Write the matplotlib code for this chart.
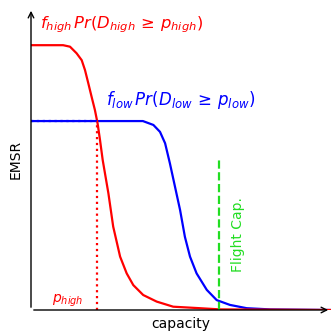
import matplotlib.pyplot as plt

# points (x = capacity, y = EMSR, arbitrary units 0..10)
high_x = [0.0, 1.07, 1.30, 1.52, 1.69, 1.80, 1.91, 2.02, 2.13, 2.22, 2.30, 2.39, 2.58, 2.74,
          2.97, 3.19, 3.41, 3.74, 4.19, 4.74, 5.63, 6.30, 10.0]
high_y = [8.83, 8.83, 8.78, 8.56, 8.33, 8.0, 7.56, 7.11, 6.67, 6.22, 5.67, 5.0, 3.89, 2.78,
          1.78, 1.22, 0.83, 0.50, 0.28, 0.11, 0.06, 0.02, 0.0]

low_x = [0.0, 3.73, 4.08, 4.30, 4.47, 4.63, 4.80, 4.97, 5.13, 5.30, 5.52, 5.86, 6.19, 6.63,
         7.19, 7.97, 10.0]
low_y = [6.3, 6.3, 6.17, 5.94, 5.56, 4.89, 4.11, 3.33, 2.44, 1.78, 1.22, 0.67, 0.33, 0.17,
         0.06, 0.02, 0.0]

p_high = 2.2
emsr_low = 6.3
flight_cap = 6.27
cap_top = 5.07

plt.rcParams['mathtext.fontset'] = 'dejavusans'

fig = plt.figure(figsize=(3.32, 3.34), dpi=100)
ax = fig.add_axes([31/332, 24/334, 300/332, 302/334])
ax.set_xlim(0, 10)
ax.set_ylim(0, 10.07)
for s in ax.spines.values():
    s.set_visible(False)
ax.set_xticks([])
ax.set_yticks([])

# axes with arrow heads
ax.annotate('', xy=(1, 0), xytext=(0, 0), xycoords='axes fraction',
            arrowprops=dict(arrowstyle='->', color='black', lw=1))
ax.annotate('', xy=(0, 1), xytext=(0, 0), xycoords='axes fraction',
            arrowprops=dict(arrowstyle='->', color='black', lw=1))

ax.plot(low_x, low_y, color='#0000ff', linewidth=1.6, solid_joinstyle='round')
ax.plot(high_x, high_y, color='#ff0000', linewidth=1.6, solid_joinstyle='round')

ax.plot([0, p_high], [emsr_low, emsr_low], color='#0000ff', linestyle=':', linewidth=1.6)
ax.plot([p_high, p_high], [0, emsr_low], color='#ff0000', linestyle=':', linewidth=1.6)
ax.plot([flight_cap, flight_cap], [0, cap_top], color='#22dd22', linestyle='--', linewidth=1.6)

ax.text(0.3, 9.4, r'$f_{high}\,Pr(D_{high}\,\geq\,p_{high})$', color='#ff0000', fontsize=11.8)
ax.text(2.5, 6.85, r'$f_{low}\,Pr(D_{low}\,\geq\,p_{low})$', color='#0000ff', fontsize=12)
ax.text(0.7, 0.25, r'$p_{high}$', color='#ff0000', fontsize=10)
ax.text(6.9, 2.53, 'Flight Cap.', color='#22dd22', fontsize=10, rotation=90, ha='center', va='center')

ax.set_xlabel('capacity', fontsize=10, labelpad=5)
ax.set_ylabel('EMSR', fontsize=10, labelpad=6)

plt.savefig('out.png', dpi=100)
